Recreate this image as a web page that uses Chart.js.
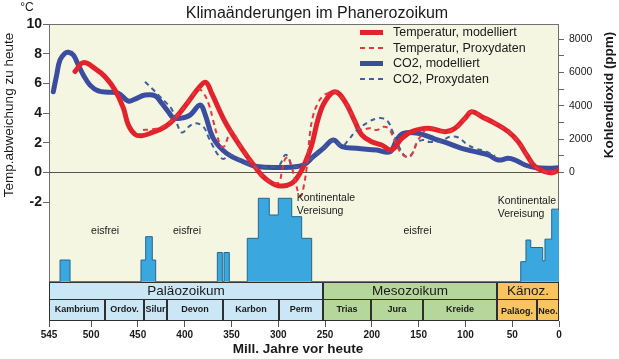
<!DOCTYPE html>
<html><head><meta charset="utf-8">
<script src="https://cdn.jsdelivr.net/npm/chart.js@4.4.1/dist/chart.umd.min.js"></script>
<style>html,body{margin:0;padding:0;background:#fff}canvas{display:block}</style>
</head><body>
<canvas id="c" width="619" height="359"></canvas>
<script>
const FONT = "'Liberation Sans', Arial, Helvetica, sans-serif";

// ---- tick labels ----
const xTicks = [545,500,450,400,350,300,250,200,150,100,50,0];
const tempTicks = [10,8,6,4,2,0,-2];
const co2Ticks = [0,1000,2000,3000,4000,5000,6000,7000,8000];
const co2TickLabels = ['0','','2000','','4000','','6000','','8000'];

// ---- series (age in Mill. Jahre, temperature in °C, CO2 in ppm) ----
const tempModelAge = [517.2,508.3,495.8,485.1,474.5,465.6,460.2,453.1,445.9,435.2,421.0,410.3,396.1,385.4,377.5,371.1,356.9,339.1,324.9,314.2,300.0,285.6,276.8,271.4,264.3,257.2,250.1,239.4,228.7,218.0,210.8,200.2,189.5,178.8,168.1,157.4,139.7,121.8,111.1,100.4,93.3,82.6,68.4,54.2,43.5,34.5,25.6,15.0,7.8,0];
const tempModel    = [6.8,7.4,7.0,6.45,5.55,4.35,3.2,2.57,2.48,2.68,3.08,3.65,4.77,5.67,6.07,5.33,3.42,1.63,0.39,-0.39,-0.89,-0.73,-0.05,0.64,1.85,3.65,4.77,5.44,4.77,3.42,2.53,2.07,1.85,1.52,2.3,2.75,2.98,2.75,2.98,3.65,4.09,3.76,3.31,2.75,2.07,1.18,0.39,0.05,-0.01,0.17];

const tempProxyAge = [444.5,437.1,428.2,421.0,410.3,396.1,385.8,379.4,374.0,369.7,365.5,361.2,357.4,353.7,349.4,339.1,324.9,314.2,300.3,296.0,292.8,289.3,285.3,282.1,278.4,275.7,272.5,269.3,266.1,262.6,258.6,253.3,246.9,239.4,228.7,218.0,212.7,202.0,194.5,187.7,182.4,178.5,173.1,167.8,162.4,157.1,152.1,147.5,139.7,121.8,111.1,100.4,93.3,82.6,68.4,54.2,43.5,34.5,25.6,15.0,7.8,0];
const tempProxy    = [2.86,2.9,3.0,3.2,3.67,4.77,5.62,5.29,4.55,3.54,2.53,1.78,1.78,2.39,2.79,1.63,0.39,-0.39,-0.71,0.1,0.9,1.0,0.3,-0.51,-1.38,-1.58,-0.84,0.51,2.66,3.87,4.55,5.08,5.35,5.44,4.77,3.42,2.9,2.98,2.86,3.08,2.98,2.59,1.78,1.25,1.04,1.25,1.99,2.46,2.98,2.75,2.98,3.65,4.09,3.76,3.31,2.75,2.07,1.18,0.39,0.05,-0.01,0.17];

const co2ModelAge = [540.4,536.8,533.2,527.9,524.4,519.0,513.7,508.3,501.2,492.3,481.6,470.9,460.2,453.1,442.4,431.7,424.6,417.5,412.2,405.0,394.3,383.6,378.3,369.4,355.1,337.4,323.0,298.1,273.2,262.6,251.9,241.2,231.9,216.2,194.8,180.6,173.4,166.4,150.4,132.5,118.3,104.0,89.8,75.6,64.9,54.2,47.0,36.3,25.6,11.4,0];
const co2Model    = [4850,5860,6760,7160,7220,7060,6460,5860,5250,4900,4820,4760,4290,4410,4650,4610,4160,3650,3290,3250,3450,4050,3510,2050,1150,650,360,300,450,950,1450,1950,1550,1450,1350,1250,1950,2350,2350,2010,1750,1450,1250,1050,750,850,750,450,300,250,280];

const co2ProxyAge = [442.4,435.2,428.2,421.0,413.9,408.5,402.9,396.1,389.0,380.1,374.8,369.4,364.1,358.7,351.6,345.2,337.4,323.0,300.0,292.8,289.3,285.3,273.2,262.6,251.9,241.2,231.9,225.2,216.9,203.8,194.8,188.1,182.4,178.5,171.8,165.7,160.3,155.7,151.7,145.0,137.9,125.3,116.4,107.6,98.6,89.8,79.1,68.4];
const co2Proxy    = [5450,5060,4660,4250,3810,2970,2400,2730,2960,2750,2150,1550,1050,810,1050,930,650,360,420,1050,950,390,450,950,1450,1950,1590,1950,2490,3030,3240,3250,3030,2550,1650,1050,930,1230,1770,1950,1830,1920,2150,2100,1710,1450,1290,990];

// glaciation extent (relative units), each level holds until the next age
const iceAge   = [545,533.2,522.5,446.7,441.7,434.6,431.0,365.1,359.8,358.0,352.3,333.1,321.3,309.6,300.0,285.6,275.0,264.3,40.9,35.3,30.2,17.4,15.0,7.8,0];
const iceLevel = [0,2.6,0,2.6,5.4,2.6,0,3.5,0,3.5,0,5.2,10,8,10,7.8,5.2,0,2.4,5.0,4.1,2.5,5.1,8.7,8.7];

// geological time scale
const eraNames  = ['Paläozoikum','Mesozoikum','Känoz.'];
const eraBounds = [545,252,66,0];
const periodNames  = ['Kambrium','Ordov.','Silur','Devon','Karbon','Perm','Trias','Jura','Kreide','Paläog.','Neo.'];
const periodBounds = [545,485,443,419,359,299,252,201,145,66,23,0];
const periodEra    = [0,0,0,0,0,0,1,1,1,2,2];

const seriesLabels = ['Temperatur, modelliert','Temperatur, Proxydaten','CO2, modelliert','CO2, Proxydaten'];

// ---- styling / annotations ----
const eraColors = ['#cbe7f6','#b5d79b','#f8c45f'];
const notes = [
  {lines:['eisfrei'], age:485.1, t:-3.94, align:'center'},
  {lines:['eisfrei'], age:397.5, t:-3.94, align:'center'},
  {lines:['eisfrei'], age:151.2, t:-3.94, align:'center'},
  {lines:['Kontinentale','Vereisung'], age:280.3, t:-1.74, align:'left'},
  {lines:['Kontinentale','Vereisung'], age:65.5, t:-1.90, align:'left'}
];

const pts = (a, v) => a.map((x, i) => ({x: x, y: v[i]}));

const deco = {
  id: 'deco',
  beforeDraw(chart) {
    const {ctx, chartArea: ca, scales} = chart;
    const yZero = scales.yI.getPixelForValue(0);
    ctx.save();
    ctx.fillStyle = '#fff';
    ctx.fillRect(0, 0, chart.width, chart.height);
    ctx.fillStyle = '#f4f6e2';
    ctx.fillRect(ca.left, ca.top, ca.right - ca.left, yZero - ca.top);
    ctx.strokeStyle = '#707070';
    ctx.lineWidth = 1;
    ctx.strokeRect(Math.round(ca.left) + 0.5, Math.round(ca.top) + 0.5, Math.round(ca.right - ca.left) - 1, Math.round(yZero - ca.top));
    ctx.restore();
  },
  beforeDatasetsDraw(chart) {
    const {ctx, chartArea: ca, scales} = chart;
    const x = scales.x;
    const y0 = Math.round(scales.yI.getPixelForValue(0)) + 0.5;
    const y1 = y0 + 17;
    const y2 = Math.round(ca.bottom) - 0.5;
    ctx.save();
    ctx.strokeStyle = '#2e2e2e';
    ctx.lineWidth = 1;
    for (let i = 0; i < eraNames.length; i++) {
      const xl = Math.round(x.getPixelForValue(eraBounds[i])) + 0.5;
      const xr = Math.round(x.getPixelForValue(eraBounds[i + 1])) - 0.5;
      ctx.fillStyle = eraColors[i];
      ctx.fillRect(xl, y0, xr - xl, y1 - y0);
      ctx.strokeRect(xl, y0, xr - xl, y1 - y0);
      ctx.fillStyle = '#1a1a1a';
      ctx.font = '13.5px ' + FONT;
      ctx.textAlign = 'center';
      ctx.textBaseline = 'middle';
      ctx.fillText(eraNames[i], (xl + xr) / 2, (y0 + y1) / 2 + 0.5);
    }
    for (let i = 0; i < periodNames.length; i++) {
      const xl = Math.round(x.getPixelForValue(periodBounds[i])) + 0.5;
      const xr = Math.round(x.getPixelForValue(periodBounds[i + 1])) - 0.5;
      ctx.fillStyle = eraColors[periodEra[i]];
      ctx.fillRect(xl, y1, xr - xl, y2 - y1);
      ctx.strokeRect(xl, y1, xr - xl, y2 - y1);
      ctx.fillStyle = '#1a1a1a';
      ctx.font = 'bold 9px ' + FONT;
      ctx.textAlign = 'center';
      ctx.textBaseline = 'middle';
      ctx.fillText(periodNames[i], (xl + xr) / 2, (y1 + y2) / 2 + (periodEra[i] === 2 ? 1.5 : 0));
    }
    ctx.restore();
  },
  afterDatasetsDraw(chart) {
    const {ctx, scales} = chart;
    ctx.save();
    ctx.fillStyle = '#1a1a1a';
    // annotations
    ctx.font = '10.5px ' + FONT;
    ctx.textBaseline = 'middle';
    notes.forEach(n => {
      ctx.textAlign = n.align;
      const px = scales.x.getPixelForValue(n.age);
      const py = scales.yT.getPixelForValue(n.t);
      n.lines.forEach((l, k) => ctx.fillText(l, px, py + k * 13));
    });
    // title
    ctx.font = '16px ' + FONT;
    ctx.textAlign = 'center';
    ctx.textBaseline = 'alphabetic';
    ctx.fillText('Klimaänderungen im Phanerozoikum', 317, 17.5);
    ctx.font = '12px ' + FONT;
    ctx.fillText('°C', 27, 11);
    // x title
    ctx.font = 'bold 13.5px ' + FONT;
    ctx.fillText('Mill. Jahre vor heute', 298, 353);
    // left title
    ctx.save();
    ctx.translate(9, 115);
    ctx.rotate(-Math.PI / 2);
    ctx.font = '13.5px ' + FONT;
    ctx.textBaseline = 'middle';
    ctx.fillText('Temp.abweichung zu heute', 0, 0);
    ctx.restore();
    // right title
    ctx.save();
    ctx.translate(609, 95);
    ctx.rotate(-Math.PI / 2);
    ctx.font = 'bold 13.5px ' + FONT;
    ctx.textBaseline = 'middle';
    ctx.fillText('Kohlendioxid (ppm)', 0, 0);
    ctx.restore();
    // legend
    const rows = [32.5, 48, 63.5, 79];
    for (let i = 0; i < 4; i++) {
      const ds = chart.data.datasets[i];
      ctx.save();
      ctx.strokeStyle = ds.borderColor;
      ctx.lineWidth = ds.borderWidth;
      ctx.setLineDash(ds.borderDash || []);
      ctx.beginPath();
      ctx.moveTo(360, rows[i]);
      ctx.lineTo(383, rows[i]);
      ctx.stroke();
      ctx.restore();
      ctx.font = '12.5px ' + FONT;
      ctx.textAlign = 'left';
      ctx.textBaseline = 'middle';
      ctx.fillStyle = '#1a1a1a';
      ctx.fillText(ds.label, 393, rows[i] + 0.5);
    }
    ctx.restore();
  }
};

Chart.defaults.font.family = FONT;

new Chart(document.getElementById('c'), {
  type: 'line',
  data: {
    datasets: [
      {label: seriesLabels[0], data: pts(tempModelAge, tempModel), yAxisID: 'yT', borderColor: '#e3222b', borderWidth: 5, tension: 0.4, pointRadius: 0, fill: false, order: 2, borderCapStyle: 'round', borderJoinStyle: 'round'},
      {label: seriesLabels[1], data: pts(tempProxyAge, tempProxy), yAxisID: 'yT', borderColor: '#e6363e', borderWidth: 2, borderDash: [5, 4], tension: 0.4, pointRadius: 0, fill: false, order: 0},
      {label: seriesLabels[2], data: pts(co2ModelAge, co2Model), yAxisID: 'yC', borderColor: '#3a4d9f', borderWidth: 5, tension: 0.4, pointRadius: 0, fill: false, order: 3, borderCapStyle: 'round', borderJoinStyle: 'round'},
      {label: seriesLabels[3], data: pts(co2ProxyAge, co2Proxy), yAxisID: 'yC', borderColor: '#40609a', borderWidth: 2, borderDash: [5, 4], tension: 0.4, pointRadius: 0, fill: false, order: 1},
      {label: 'Vereisung', data: pts(iceAge, iceLevel), yAxisID: 'yI', stepped: 'before', fill: 'origin', backgroundColor: '#3aa7de', borderColor: '#26668f', borderWidth: 1, pointRadius: 0, tension: 0, order: 4}
    ]
  },
  options: {
    responsive: false,
    animation: false,
    devicePixelRatio: 1,
    layout: {padding: {top: 24, left: 0, right: 0, bottom: 0}},
    plugins: {legend: {display: false}, title: {display: false}, tooltip: {enabled: false}},
    scales: {
      x: {
        type: 'linear', reverse: true, min: 0, max: 545, position: 'bottom',
        afterBuildTicks: s => { s.ticks = xTicks.map(v => ({value: v})); },
        afterFit: s => { s.height = 38; },
        ticks: {autoSkip: false, maxRotation: 0, padding: 2, color: '#1a1a1a', font: {size: 10, weight: 'bold'}, callback: v => String(v)},
        grid: {drawOnChartArea: false, tickLength: 6, color: '#555', tickColor: '#555'},
        border: {display: false}
      },
      yT: {
        type: 'linear', position: 'left', min: -10, max: 10,
        afterBuildTicks: s => { s.ticks = tempTicks.map(v => ({value: v})); },
        afterFit: s => { s.width = 49; },
        ticks: {padding: 1, color: '#1a1a1a', font: {size: 14, weight: 'bold'}, callback: v => String(v)},
        grid: {tickLength: 6, tickColor: '#666', lineWidth: 1, color: c => (c.tick && c.tick.value === 0) ? '#555' : 'rgba(0,0,0,0)'},
        border: {display: false}
      },
      yC: {
        type: 'linear', position: 'right', min: -8919, max: 8919,
        afterBuildTicks: s => { s.ticks = co2Ticks.map(v => ({value: v})); },
        afterFit: s => { s.width = 60; },
        ticks: {padding: 5, color: '#1a1a1a', font: {size: 10.5}, callback: (v, i) => co2TickLabels[i]},
        grid: {drawOnChartArea: false, tickLength: 5, tickColor: '#666'},
        border: {display: false}
      },
      yI: {type: 'linear', display: false, min: -4.712, max: 30.9}
    }
  },
  plugins: [deco]
});
</script>
</body></html>
